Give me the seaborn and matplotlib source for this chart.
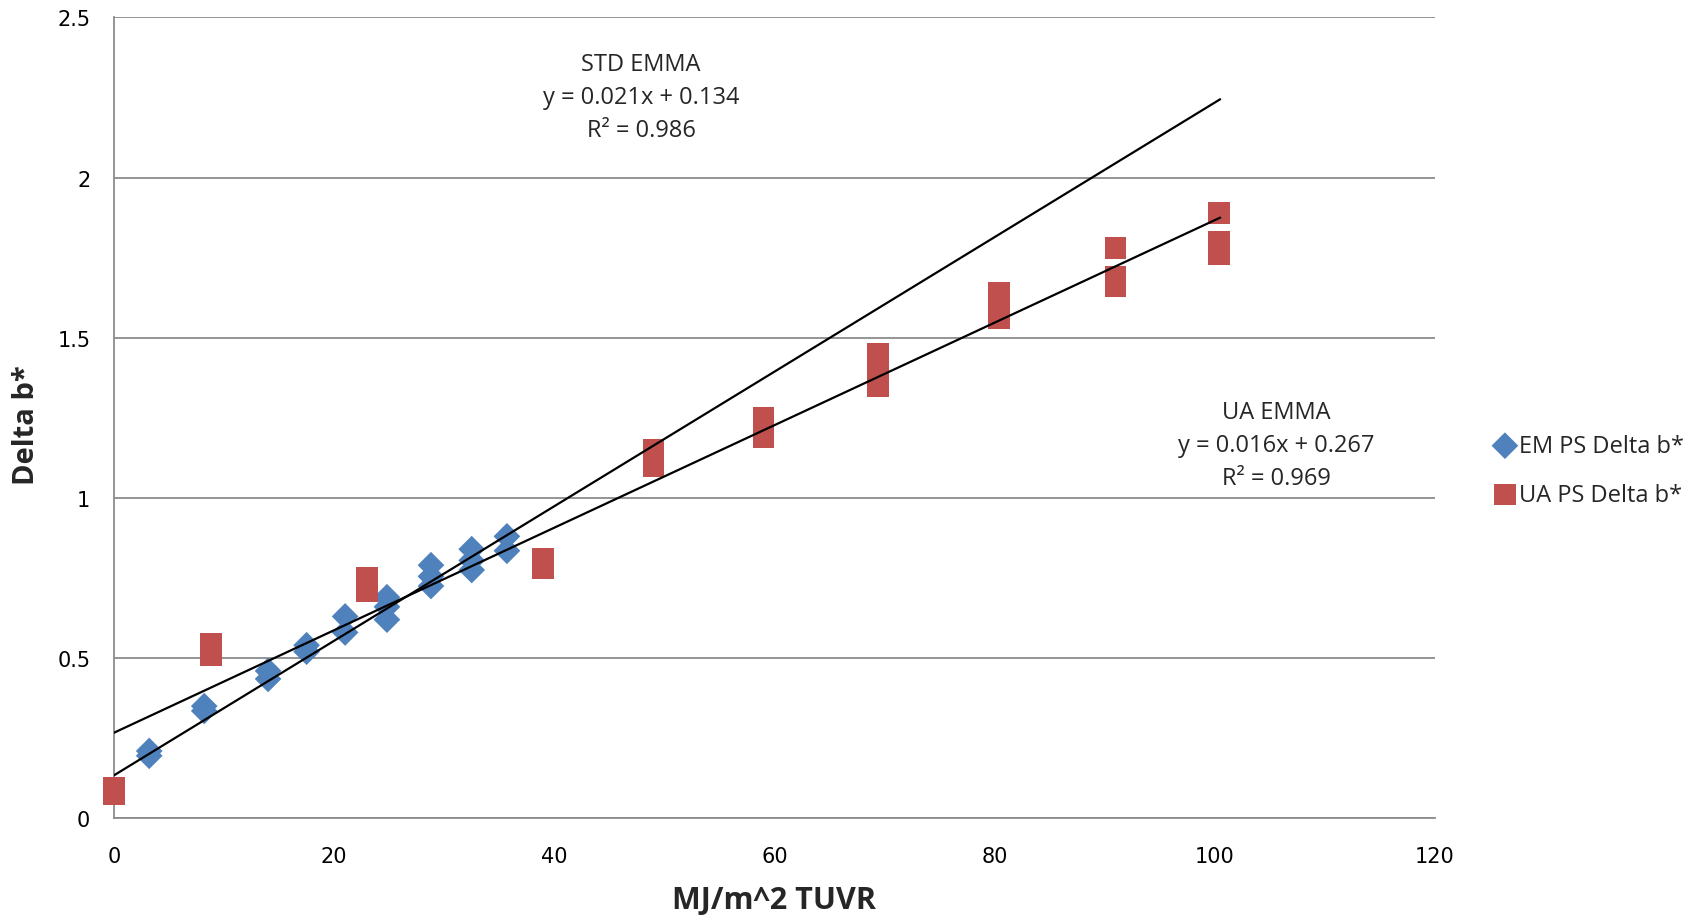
import numpy as np
import pandas as pd
import matplotlib
matplotlib.use("Agg")
import matplotlib.pyplot as plt
import seaborn as sns

# ---- data ----
em_x = [3.2, 3.2, 8.2, 8.2, 14.0, 14.0, 17.5, 17.5, 21.0, 21.0,
        24.8, 24.8, 24.8, 28.8, 28.8, 28.8, 32.5, 32.5, 32.5, 35.7, 35.7]
em_y = [0.21, 0.195, 0.35, 0.335, 0.46, 0.435, 0.54, 0.52, 0.63, 0.58,
        0.69, 0.66, 0.62, 0.79, 0.755, 0.725, 0.84, 0.805, 0.775, 0.88, 0.835]

ua_x = [0, 0, 8.8, 8.8, 8.8, 23, 23, 23, 39, 39, 49, 49, 49, 59, 59, 59,
        69.4, 69.4, 69.4, 80.4, 80.4, 80.4, 91, 91, 91, 100.4, 100.4, 100.4]
ua_y = [0.095, 0.075, 0.545, 0.525, 0.51, 0.75, 0.73, 0.71, 0.81, 0.78,
        1.15, 1.12, 1.10, 1.25, 1.22, 1.19, 1.45, 1.40, 1.35,
        1.64, 1.60, 1.56, 1.78, 1.69, 1.66, 1.89, 1.80, 1.76]

std_coef = [0.021, 0.134]   # slope, intercept
ua_coef = [0.016, 0.267]
trend_x = [0, 100.5]

x_ticks = [0, 20, 40, 60, 80, 100, 120]
y_ticks = [0, 0.5, 1, 1.5, 2, 2.5]
y_tick_labels = ["0", "0.5", "1", "1.5", "2", "2.5"]

em_label = "EM PS Delta b*"
ua_label = "UA PS Delta b*"
std_text = "STD EMMA\ny = 0.021x + 0.134\nR\u00b2 = 0.986"
ua_text = "UA EMMA\ny = 0.016x + 0.267\nR\u00b2 = 0.969"

# ---- style ----
sns.set_style("white")
plt.rcParams['font.family'] = ['Open Sans', 'DejaVu Sans']

fig = plt.figure(figsize=(16.96, 9.2), dpi=100)
ax = fig.add_axes([0.0672, 0.1095, 0.846 - 0.0672, 0.98 - 0.1095])

blue = "#4F81BD"
red = "#C0504D"

df_em = pd.DataFrame({"x": em_x, "y": em_y})
df_ua = pd.DataFrame({"x": ua_x, "y": ua_y})

sns.scatterplot(data=df_em, x="x", y="y", marker="D", s=185, color=blue,
                edgecolor="none", linewidth=0, ax=ax, label=em_label,
                zorder=3, clip_on=False)
sns.scatterplot(data=df_ua, x="x", y="y", marker="s", s=240, color=red,
                edgecolor="none", linewidth=0, ax=ax, label=ua_label,
                zorder=3, clip_on=False)

tx = np.array(trend_x, dtype=float)
ax.plot(tx, std_coef[0] * tx + std_coef[1], color="black", lw=1.6, zorder=4)
ax.plot(tx, ua_coef[0] * tx + ua_coef[1], color="black", lw=1.6, zorder=4)

ax.set_xlim(0, 120)
ax.set_ylim(0, 2.5)
ax.set_xticks(x_ticks)
ax.set_yticks(y_ticks)
ax.set_yticklabels(y_tick_labels)
ax.yaxis.grid(True, color="#8c8c8c", lw=1.3)
ax.xaxis.grid(False)
ax.set_axisbelow(True)

for side in ["top", "right"]:
    ax.spines[side].set_visible(False)
for side in ["left", "bottom"]:
    ax.spines[side].set_color("#8c8c8c")
    ax.spines[side].set_linewidth(1.3)

ax.tick_params(axis="both", which="both", length=0, labelsize=15,
               labelcolor="black")
ax.tick_params(axis="x", pad=20)
ax.tick_params(axis="y", pad=17)
for lab in ax.get_xticklabels() + ax.get_yticklabels():
    lab.set_family(["DejaVu Sans"])

ax.set_xlabel("MJ/m^2 TUVR", fontsize=22, fontweight="bold")
ax.set_ylabel("Delta b*", fontsize=21, fontweight="bold")
ax.xaxis.label.set_va("center")
ax.yaxis.label.set_va("center")
ax.yaxis.label.set_ha("center")
ax.xaxis.set_label_coords(0.5, -0.102)
ax.yaxis.set_label_coords(-0.0659, 0.492)

ax.text(47.9, 2.253, std_text, ha="center", va="center", fontsize=17,
        linespacing=1.5)
ax.text(105.6, 1.164, ua_text, ha="center", va="center", fontsize=17,
        linespacing=1.5)

ax.legend(loc="center left", bbox_to_anchor=(1.037, 0.4345), frameon=False,
          fontsize=17, handletextpad=0.1, labelspacing=1.05,
          borderaxespad=0, handlelength=1.0)

fig.savefig("out.png", dpi=100)
